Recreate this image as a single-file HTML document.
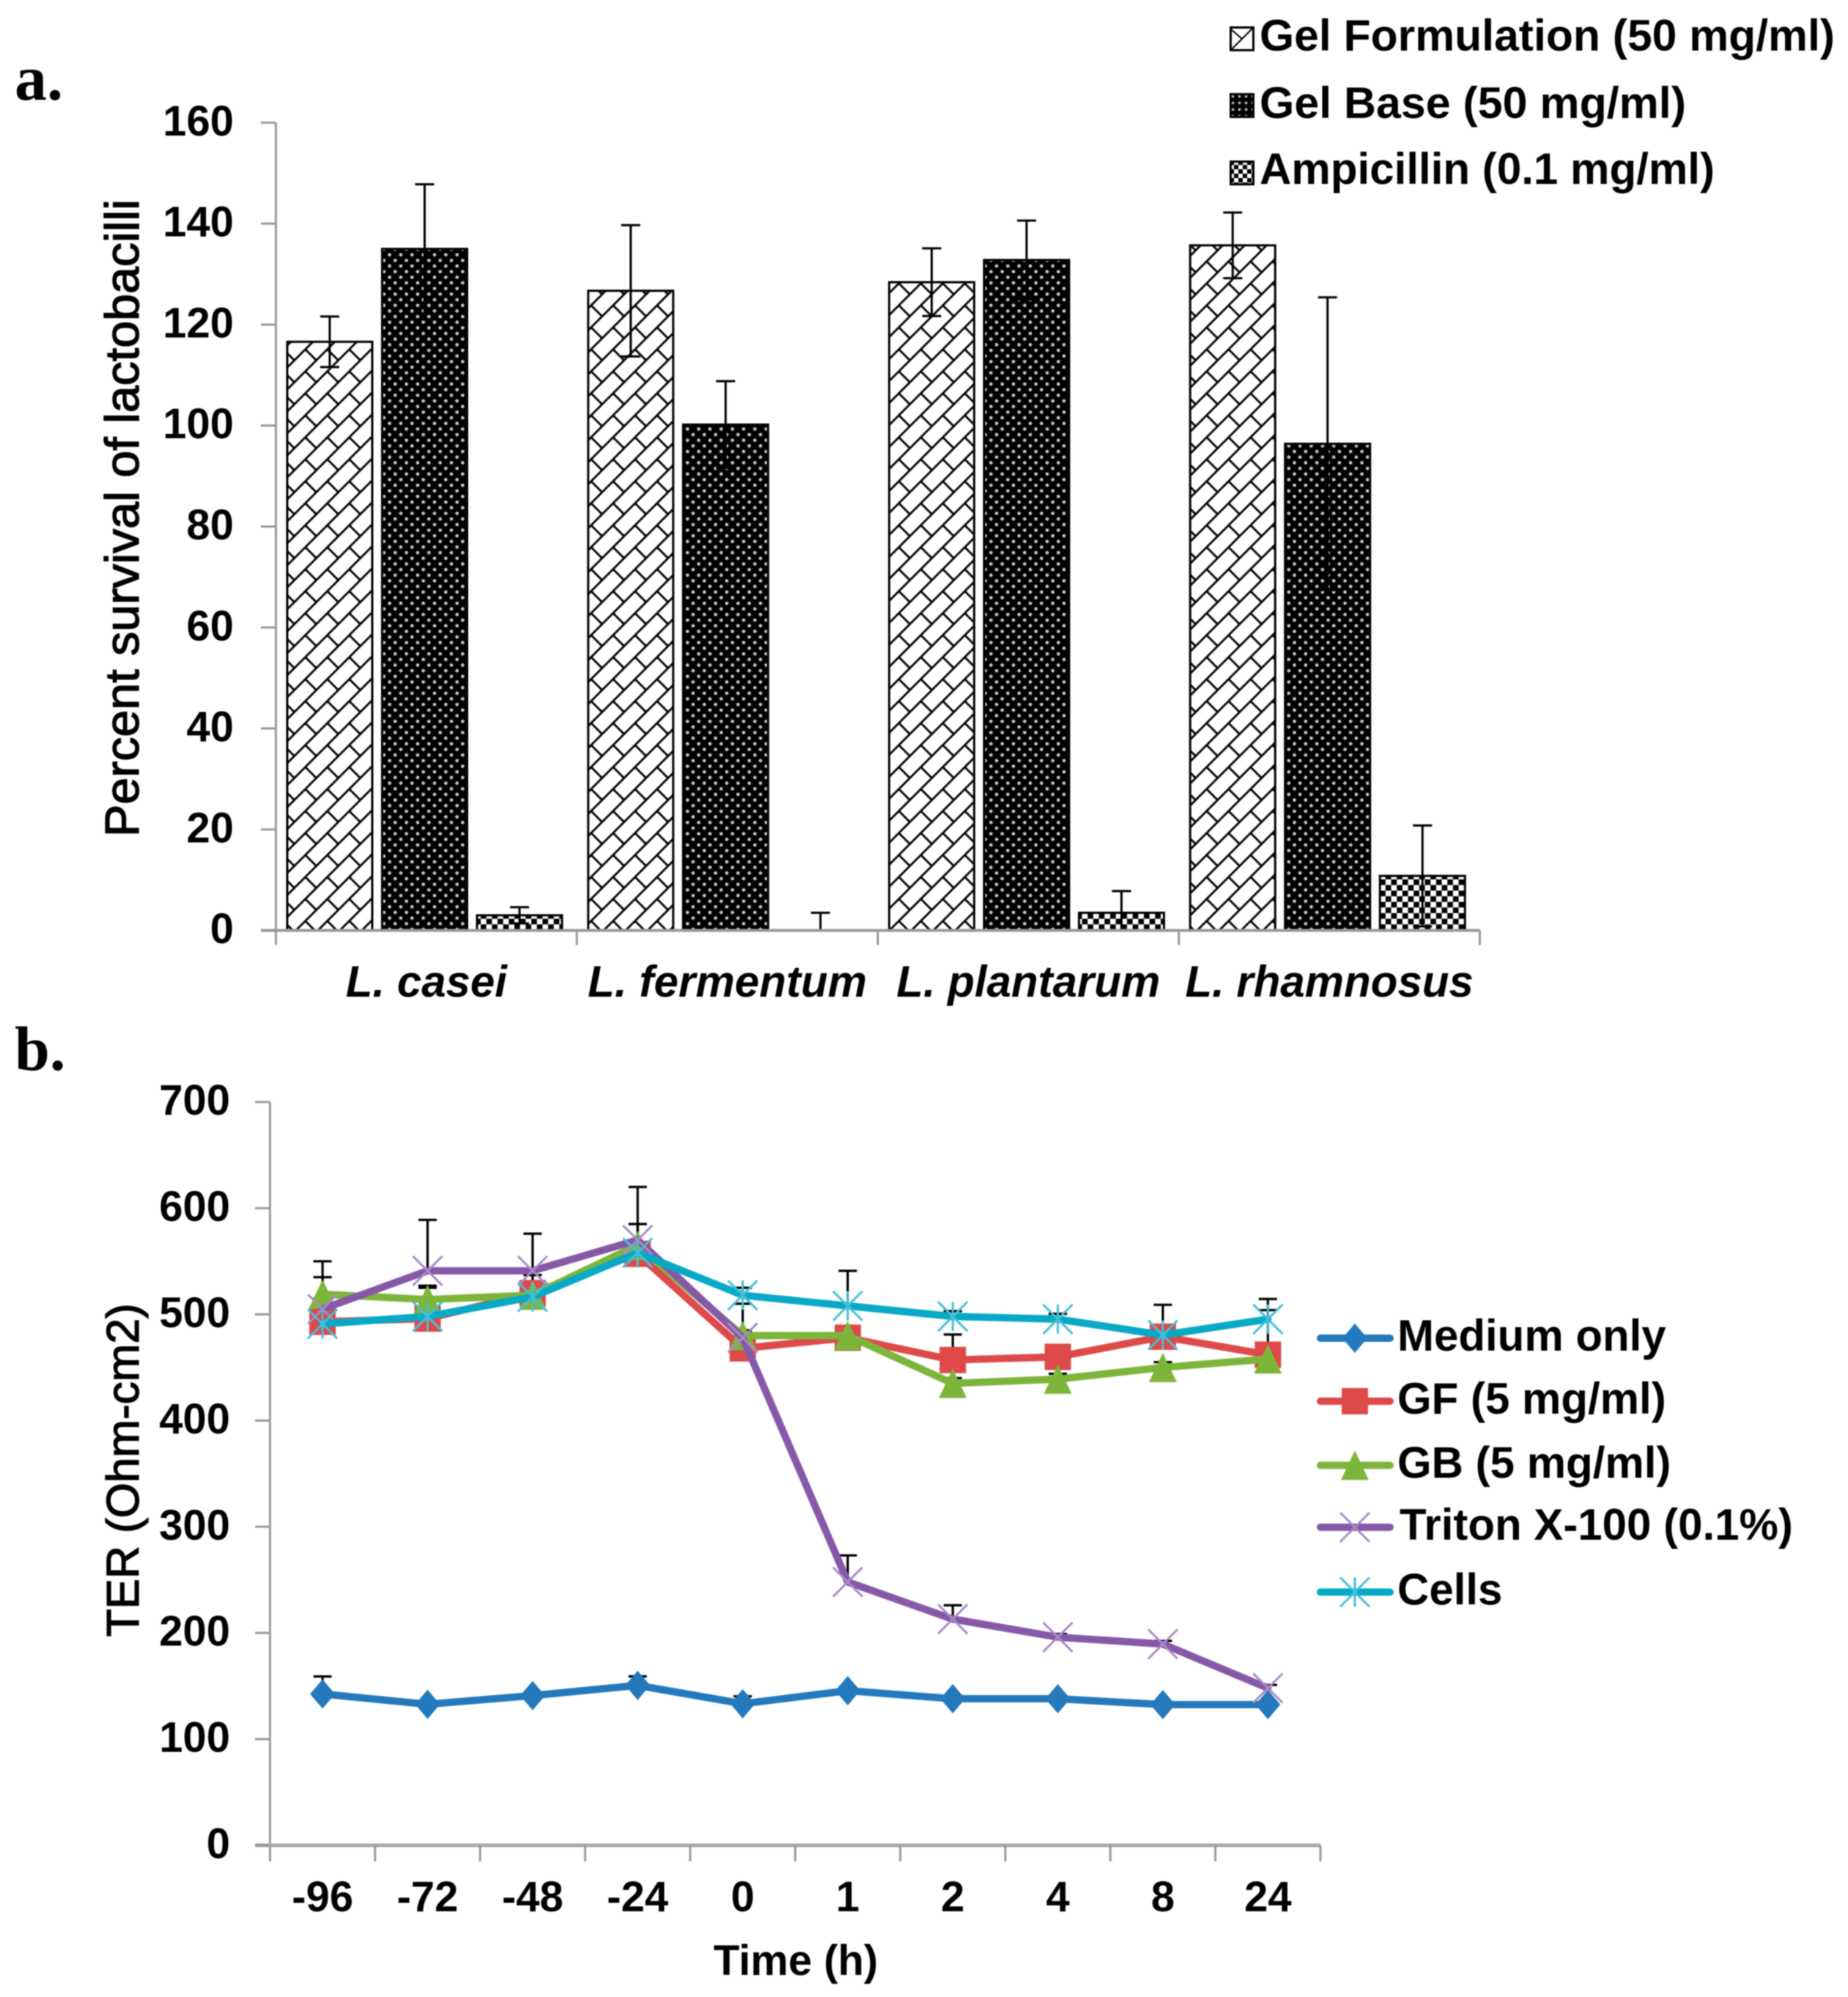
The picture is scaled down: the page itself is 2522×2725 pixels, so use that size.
<!DOCTYPE html>
<html lang="en">
<head>
<meta charset="utf-8">
<title>Lactobacilli survival and TER charts</title>
<style>
  html, body { margin: 0; padding: 0; background: #fff; }
  body { width: 2522px; height: 2725px; overflow: hidden; }
  svg { display: block; filter: blur(0.8px); }
  text { font-family: "Liberation Sans", Arial, sans-serif; fill: #000; }
  .bold { font-weight: bold; }
  .serif { font-family: "Liberation Serif", "Times New Roman", serif; font-weight: bold; }
  .title { font-weight: normal; stroke: #000; stroke-width: 1.4px; }
</style>
</head>
<body>
<svg id="figure" xmlns="http://www.w3.org/2000/svg" width="2522" height="2725" viewBox="0 0 2522 2725">
  <defs>
    <pattern id="shingle" patternUnits="userSpaceOnUse" x="416.7" y="476.7" width="30" height="30">
      <rect width="30" height="30" fill="#fff"/>
      <path d="M-2,32 L32,-2 M-2,2 L2,-2 M28,32 L32,28 M0,0 L15,15" stroke="#000" stroke-width="2.8" fill="none"/>
    </pattern>
    <pattern id="dots" patternUnits="userSpaceOnUse" x="524" y="386" width="15.34" height="15.34">
      <rect width="15.34" height="15.34" fill="#000"/>
      <circle cx="0" cy="0" r="2.4" fill="#c4c4c4"/>
      <circle cx="15.34" cy="0" r="2.4" fill="#c4c4c4"/>
      <circle cx="0" cy="15.34" r="2.4" fill="#c4c4c4"/>
      <circle cx="15.34" cy="15.34" r="2.4" fill="#c4c4c4"/>
      <circle cx="7.67" cy="7.67" r="2.4" fill="#c4c4c4"/>
    </pattern>
    <pattern id="checker" patternUnits="userSpaceOnUse" x="656" y="1246" width="15.34" height="15.34">
      <rect width="15.34" height="15.34" fill="#fff"/>
      <rect x="0" y="0" width="7.67" height="7.67" fill="#000"/>
      <rect x="7.67" y="7.67" width="7.67" height="7.67" fill="#000"/>
    </pattern>
    <pattern id="mini-dots" patternUnits="userSpaceOnUse" x="1678" y="127" width="9" height="9">
      <rect width="9" height="9" fill="#000"/>
      <circle cx="4.5" cy="4.5" r="1.9" fill="#bbb"/>
    </pattern>
    <pattern id="mini-checker" patternUnits="userSpaceOnUse" x="1678" y="219" width="12" height="12">
      <rect width="12" height="12" fill="#fff"/>
      <rect width="6" height="6" fill="#000"/>
      <rect x="6" y="6" width="6" height="6" fill="#000"/>
    </pattern>
  </defs>

  <text class="serif" x="20" y="136" font-size="88">a.</text>
  <text class="serif" x="20" y="1460" font-size="86">b.</text>

  <text class="title" x="189" y="707" font-size="65" text-anchor="middle" textLength="870" lengthAdjust="spacingAndGlyphs" transform="rotate(-90 189 707)">Percent survival of lactobacilli</text>
  <text class="title" x="189" y="2006" font-size="62" text-anchor="middle" textLength="455" lengthAdjust="spacingAndGlyphs" transform="rotate(-90 189 2006)">TER (Ohm-cm2)</text>
  <text class="bold" x="1086" y="2695" font-size="58" text-anchor="middle">Time (h)</text>

  <g id="chart-a"></g>
  <g id="chart-b"></g>

  <g>
    <g>
      <rect x="1679.5" y="37.5" width="31" height="31" fill="#fff" stroke="#000" stroke-width="3"/>
      <path d="M1680,68 L1710,38 M1680,40 L1695,53" stroke="#000" stroke-width="2" fill="none"/>
      <text class="bold" x="1719" y="69" font-size="60" textLength="785" lengthAdjust="spacingAndGlyphs">Gel Formulation (50 mg/ml)</text>
    </g>
    <g>
      <rect x="1679.5" y="128.5" width="31" height="31" fill="url(#mini-dots)" stroke="#000" stroke-width="3"/>
      <text class="bold" x="1719" y="161" font-size="60" textLength="582" lengthAdjust="spacingAndGlyphs">Gel Base (50 mg/ml)</text>
    </g>
    <g>
      <rect x="1679.5" y="220.5" width="31" height="31" fill="url(#mini-checker)" stroke="#000" stroke-width="3"/>
      <text class="bold" x="1719" y="251" font-size="60" textLength="621" lengthAdjust="spacingAndGlyphs">Ampicillin (0.1 mg/ml)</text>
    </g>
  </g>

  <g id="legend-b"></g>
</svg>

<script>
// ---------- Chart A data ----------
const speciesLabels = ['L. casei', 'L. fermentum', 'L. plantarum', 'L. rhamnosus'];
const gelFormulation = [116.6, 126.7, 128.4, 135.7];
const gelBase = [135, 100.2, 132.8, 96.4];
const ampicillin = [3, 0, 3.5, 10.8];
const gelFormulationErr = [5, 13, 6.7, 6.5];
const gelBaseErr = [12.8, 8.6, 7.8, 29];
const ampicillinErr = [1.6, 3.5, 4.3, 10];
const survivalTicks = [0, 20, 40, 60, 80, 100, 120, 140, 160];

// ---------- Chart B data ----------
const timeLabels = ['-96', '-72', '-48', '-24', '0', '1', '2', '4', '8', '24'];
const mediumOnly = [142.5, 132.8, 141, 150.6, 133.3, 145.6, 138, 138, 132.5, 132.5];
const gfValues = [493, 496, 520, 557, 468, 478, 457, 460, 479, 462];
const gbValues = [519, 514, 518, 565, 480, 480, 435, 439, 450, 458];
const tritonValues = [505, 541, 541, 570, 478, 248, 213, 196, 189.5, 148];
const cellsValues = [491, 498, 516.5, 558, 518, 508, 498, 495.5, 480.5, 495.5];
const mediumErr = [16.5, 3, 3, 8.5, 7, 3, 3, 3, 3, 3];
const gfErr = [42, 31, 17, 28, 42, 5, 24, 5, 30, 42];
const gbErr = [31, 11, 5, 20, 5, 5, 5, 5, 5, 5];
const tritonErr = [10, 48, 35, 50, 5, 25, 13, 3, 3, 3];
const cellsErr = [5, 5, 5, 5, 7, 33, 5, 5, 5, 19];
const terTicks = [0, 100, 200, 300, 400, 500, 600, 700];

const NS = 'http://www.w3.org/2000/svg';
const AXIS = '#999';

function mk(parent, tag, attrs, text) {
  const el = document.createElementNS(NS, tag);
  for (const k in attrs) el.setAttribute(k, attrs[k]);
  if (text !== undefined) el.textContent = text;
  parent.appendChild(el);
  return el;
}

// ---------- Chart A ----------
const chartA = document.getElementById('chart-a');
const yA = v => 1269.6 - v * (1102.2 / 160);
const xA = i => 376.5 + 410.75 * i;
const barPitch = 129.5, barOffset = 14, barWidth = 119;
const seriesA = [
  { key: 'gel-formulation', values: gelFormulation, err: gelFormulationErr, fill: 'url(#shingle)' },
  { key: 'gel-base', values: gelBase, err: gelBaseErr, fill: 'url(#dots)' },
  { key: 'ampicillin', values: ampicillin, err: ampicillinErr, fill: 'url(#checker)' }
];

seriesA.forEach((s, j) => {
  s.values.forEach((v, i) => {
    const bx = xA(i) + barOffset + barPitch * j;
    const bar = mk(chartA, 'rect', {
      x: bx + 1.5, y: yA(v), width: barWidth - 3, height: Math.max(0, yA(0) - yA(v)),
      fill: s.fill, stroke: v > 0 ? '#000' : 'none', 'stroke-width': 3
    });
    
    
  });
});

seriesA.forEach((s, j) => {
  s.values.forEach((v, i) => {
    const cx = xA(i) + barOffset + barPitch * j + barWidth / 2;
    const top = yA(v + s.err[i]);
    const bot = yA(Math.max(0, v - s.err[i]));
    const eb = mk(chartA, 'path', {
      d: 'M' + cx + ',' + top + ' L' + cx + ',' + bot + ' M' + (cx - 13) + ',' + top + ' L' + (cx + 13) + ',' + top + ' M' + (cx - 13) + ',' + bot + ' L' + (cx + 13) + ',' + bot,
      stroke: '#000', 'stroke-width': 3, fill: 'none'
    });
    
    
  });
});

const axisAY = mk(chartA, 'line', { x1: 376.5, x2: 376.5, y1: yA(160), y2: yA(0) + 20, stroke: AXIS, 'stroke-width': 3 });


const axisAX = mk(chartA, 'line', { x1: 356, x2: xA(4), y1: yA(0), y2: yA(0), stroke: AXIS, 'stroke-width': 4 });



survivalTicks.forEach(t => {
  const tick = mk(chartA, 'line', { x1: 356, x2: 376.5, y1: yA(t), y2: yA(t), stroke: AXIS, 'stroke-width': 3 });
  
  
  const lab = mk(chartA, 'text', { x: 319, y: yA(t) + 17.5, 'font-size': 58, 'text-anchor': 'end', class: 'bold' }, String(t));
  
  
});

const labelFit = { 'L. fermentum': 381 };
speciesLabels.forEach((name, i) => {
  const tick = mk(chartA, 'line', { x1: xA(i + 1), x2: xA(i + 1), y1: yA(0), y2: yA(0) + 20, stroke: AXIS, 'stroke-width': 3 });
  
  
  const attrs = { x: xA(i) + 205.4, y: 1360, 'font-size': 60, 'text-anchor': 'middle', 'font-weight': 'bold', 'font-style': 'italic' };
  if (labelFit[name]) { attrs.textLength = labelFit[name]; attrs.lengthAdjust = 'spacing'; }
  const lab = mk(chartA, 'text', attrs, name);
  
  
});

// ---------- Chart B ----------
const chartB = document.getElementById('chart-b');
const legendB = document.getElementById('legend-b');
const yB = v => 2518 - v * 1.449;
const xEdgeB = i => 368.5 + 143.35 * i;
const xB = i => xEdgeB(i) + 143.35 / 2;

const seriesB = [
  { key: 'medium-only', label: 'Medium only', values: mediumOnly, err: mediumErr, color: '#2379BC', light: '#2379BC', marker: 'diamond' },
  { key: 'gf', label: 'GF (5 mg/ml)', values: gfValues, err: gfErr, color: '#DE4A4A', light: '#DE4A4A', marker: 'square' },
  { key: 'gb', label: 'GB (5 mg/ml)', values: gbValues, err: gbErr, color: '#7DB53B', light: '#7DB53B', marker: 'triangle' },
  { key: 'triton', label: 'Triton X-100 (0.1%)', values: tritonValues, err: tritonErr, color: '#8658A8', light: '#A98BC6', marker: 'cross' },
  { key: 'cells', label: 'Cells', values: cellsValues, err: cellsErr, color: '#07A9C6', light: '#45BFD8', marker: 'star' }
];

function drawMarker(parent, kind, x, y, color, light) {
  let el;
  if (kind === 'diamond') {
    el = mk(parent, 'polygon', { points: x + ',' + (y - 20) + ' ' + (x + 17) + ',' + y + ' ' + x + ',' + (y + 20) + ' ' + (x - 17) + ',' + y, fill: color });
  } else if (kind === 'square') {
    el = mk(parent, 'rect', { x: x - 18, y: y - 18, width: 36, height: 36, fill: color });
  } else if (kind === 'triangle') {
    el = mk(parent, 'polygon', { points: x + ',' + (y - 20) + ' ' + (x + 19) + ',' + (y + 20) + ' ' + (x - 19) + ',' + (y + 20), fill: color });
  } else if (kind === 'cross') {
    el = mk(parent, 'path', { d: 'M' + (x - 20) + ',' + (y - 20) + ' L' + (x + 20) + ',' + (y + 20) + ' M' + (x + 20) + ',' + (y - 20) + ' L' + (x - 20) + ',' + (y + 20), stroke: light, 'stroke-width': 3, fill: 'none' });
  } else {
    el = mk(parent, 'path', { d: 'M' + (x - 20) + ',' + (y - 20) + ' L' + (x + 20) + ',' + (y + 20) + ' M' + (x + 20) + ',' + (y - 20) + ' L' + (x - 20) + ',' + (y + 20) + ' M' + x + ',' + (y - 20) + ' L' + x + ',' + (y + 20), stroke: light, 'stroke-width': 3, fill: 'none' });
  }
  return el;
}

const axisBY = mk(chartB, 'line', { x1: 368.5, x2: 368.5, y1: yB(700), y2: yB(0) + 22, stroke: AXIS, 'stroke-width': 3 });


const axisBX = mk(chartB, 'line', { x1: 348, x2: xEdgeB(10), y1: yB(0), y2: yB(0), stroke: '#a8a8a8', 'stroke-width': 5 });



terTicks.forEach(t => {
  const tick = mk(chartB, 'line', { x1: 348, x2: 368.5, y1: yB(t), y2: yB(t), stroke: AXIS, 'stroke-width': 3 });
  
  
  const lab = mk(chartB, 'text', { x: 314, y: yB(t) + 17.5, 'font-size': 58, 'text-anchor': 'end', class: 'bold' }, String(t));
  
  
});

timeLabels.forEach((name, i) => {
  const tick = mk(chartB, 'line', { x1: xEdgeB(i + 1), x2: xEdgeB(i + 1), y1: yB(0), y2: yB(0) + 22, stroke: AXIS, 'stroke-width': 3 });
  
  
  const lab = mk(chartB, 'text', { x: xB(i), y: 2608, 'font-size': 58, 'text-anchor': 'middle', class: 'bold' }, name);
  
  
});

seriesB.forEach(s => {
  s.values.forEach((v, i) => {
    const x = xB(i), top = yB(v + s.err[i]), base = yB(v);
    const eb = mk(chartB, 'path', {
      d: 'M' + x + ',' + top + ' L' + x + ',' + base + ' M' + (x - 12.5) + ',' + top + ' L' + (x + 12.5) + ',' + top,
      stroke: '#000', 'stroke-width': 3.2, fill: 'none'
    });
    
    
  });
});

seriesB.forEach(s => {
  const g = mk(chartB, 'g', {});
  
  
  const line = mk(g, 'polyline', {
    points: s.values.map((v, i) => xB(i) + ',' + yB(v)).join(' '),
    fill: 'none', stroke: s.color, 'stroke-width': 10, 'stroke-linejoin': 'round', 'stroke-linecap': 'round'
  });
  
  
  s.values.forEach((v, i) => {
    const m = drawMarker(g, s.marker, xB(i), yB(v), s.color, s.light);
    
    
  });
});

// ---------- Legend B ----------
const legendLineY = { 'medium-only': 1826, 'gf': 1912, 'gb': 1999.5, 'triton': 2084, 'cells': 2172.5 };
seriesB.forEach(s => {
  const ly = legendLineY[s.key];
  const g = mk(legendB, 'g', {});
  
  
  const sample = mk(g, 'line', { x1: 1802, x2: 1897, y1: ly, y2: ly, stroke: s.color, 'stroke-width': 10, 'stroke-linecap': 'round' });
  
  
  const mark = drawMarker(g, s.marker, 1849, ly, s.color, s.light);
  
  
  const txt = mk(g, 'text', { x: s.key === 'triton' ? 1910 : 1907, y: ly + 17, 'font-size': 60, class: 'bold' }, s.label);
  
  
});
</script>
</body>
</html>
